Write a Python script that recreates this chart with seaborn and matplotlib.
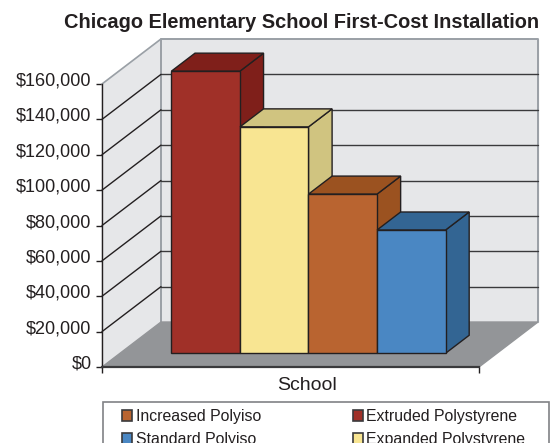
import seaborn as sns
import matplotlib.pyplot as plt
from matplotlib.patches import Patch, Rectangle
from matplotlib.transforms import Affine2D

materials = ['Extruded Polystyrene', 'Expanded Polystyrene', 'Increased Polyiso', 'Standard Polyiso']
costs = [159500, 128000, 90000, 69700]
face_colors = ['#a03028', '#f8e592', '#b96430', '#4a87c3']
shade_colors = ['#7f1f1a', '#d0c480', '#9b5220', '#336593']
y_ticks = [0, 20000, 40000, 60000, 80000, 100000, 120000, 140000, 160000]
y_labels = ['$0', '$20,000', '$40,000', '$60,000', '$80,000', '$100,000', '$120,000', '$140,000', '$160,000']
legend_order = [2, 3, 0, 1]

sns.set_theme(style='white')
plt.rcParams['font.family'] = ['Liberation Sans', 'DejaVu Sans']

W, H = 556, 443
DARK = '#231f20'
AXES_W, AXES_H = 377, 283
# oblique offset in pixels for the full depth of the chart box
DEPTH_X, DEPTH_Y = 59, 45


def at_depth(ax, t):
    return ax.transData + Affine2D().translate(DEPTH_X * t, DEPTH_Y * t)


fig = plt.figure(figsize=(W / 100, H / 100), dpi=100)
ax = fig.add_axes([102 / W, (H - 367) / H, AXES_W / W, AXES_H / H])
ax.patch.set_visible(False)

sns.barplot(x=materials, y=costs, hue=materials, palette=face_colors, width=1, ax=ax,
            legend=False, edgecolor=DARK, linewidth=1, saturation=1)
bars = list(ax.patches)
x0, x1 = -1.25, 4.25
y0, y1 = 0, 160000
ax.set_xlim(x0, x1)
ax.set_ylim(y0, y1)

# walls and floor
back = at_depth(ax, 1)
ax.fill([x0, x1, x1, x0], [y0, y0, y1, y1], color='#e6e7e9', transform=back, zorder=0, clip_on=False)
ax.plot([x0, x0, x1, x1], [y0, y1, y1, y0], color='#9aa0a6', lw=1.4, transform=back, zorder=1, clip_on=False)
px_per_val = AXES_H / (y1 - y0)
px_per_x = AXES_W / (x1 - x0)
side_x = [x0, x0 + DEPTH_X / px_per_x]
side_rise = DEPTH_Y / px_per_val
ax.fill([side_x[0], side_x[1], side_x[1], side_x[0]], [y0, y0 + side_rise, y1 + side_rise, y1],
        color='#e6e7e9', zorder=0, clip_on=False)
ax.plot([side_x[0], side_x[1]], [y1, y1 + side_rise], color='#9aa0a6', lw=1.2, zorder=1, clip_on=False)
ax.fill([x0, side_x[1], x1 + DEPTH_X / px_per_x, x1], [y0, y0 + side_rise, y0 + side_rise, y0],
        color='#939598', zorder=1.5, clip_on=False)

# gridlines run along the side wall then across the back wall
for v in y_ticks[1:-1]:
    ax.plot([x0, x1], [v, v], color='#3a3a3c', lw=1, transform=back, zorder=1.2, clip_on=False)
    ax.plot([side_x[0], side_x[1]], [v, v + side_rise], color=DARK, lw=1, zorder=1.2, clip_on=False)

# bars: seaborn front faces, extruded back
t_front, t_back = 0.305, 0.705
dx = (t_back - t_front) * DEPTH_X / px_per_x
dy = (t_back - t_front) * DEPTH_Y / px_per_val
tr = at_depth(ax, t_front)
for i, bar in enumerate(bars):
    bar.set_transform(tr)
    bar.set_zorder(3 + i + 0.5)
    bar.set_clip_on(False)
    left, right = bar.get_x(), bar.get_x() + bar.get_width()
    top = bar.get_height()
    ax.fill([right, right + dx, right + dx, right], [0, dy, top + dy, top], facecolor=shade_colors[i],
            edgecolor=DARK, lw=1, transform=tr, zorder=3 + i, clip_on=False)
    ax.fill([left, left + dx, right + dx, right], [top, top + dy, top + dy, top], facecolor=shade_colors[i],
            edgecolor=DARK, lw=1, transform=tr, zorder=3 + i, clip_on=False)

ax.set_yticks(y_ticks)
ax.set_yticklabels(y_labels, fontsize=13, color=DARK)
ax.set_xticks([x0, x1])
ax.set_xticklabels([])
ax.tick_params(axis='both', length=4, width=1, color=DARK, left=True, bottom=True, pad=3.5)
for label in ax.get_yticklabels():
    label.set_transform(label.get_transform() + Affine2D().translate(0, 5))
sns.despine(ax=ax, top=True, right=True)
ax.spines['left'].set_color(DARK)
ax.spines['left'].set_linewidth(1)
ax.spines['bottom'].set_color('#3a3a3c')
ax.spines['bottom'].set_linewidth(1.6)
ax.spines['left'].set_zorder(2)
ax.spines['bottom'].set_zorder(2)

fig.text(302 / W, 1 - 23 / H, 'Chicago Elementary School First-Cost Installation', ha='center', va='center',
         fontsize=14.4, fontweight='bold', color=DARK)
fig.text(307 / W, 1 - 385 / H, 'School', ha='center', va='center', fontsize=14, color=DARK)

# legend frame runs off the bottom of the picture
fig.add_artist(Rectangle((103 / W, -10 / H), 446 / W, (H - 402 + 10) / H, transform=fig.transFigure,
                         facecolor='white', edgecolor='#808285', lw=1.2))
handles = [Patch(facecolor=face_colors[i], edgecolor='#3a3a3c', lw=1.2) for i in legend_order]
labels = [materials[i] for i in legend_order]
fig.legend(handles, labels, ncol=2, frameon=False, fontsize=11.4, loc='upper left',
           bbox_to_anchor=(122 / W, 1 - 409 / H), borderpad=0, borderaxespad=0,
           handlelength=0.66, handleheight=0.66, handletextpad=0.2, columnspacing=5.8,
           labelspacing=0.5, labelcolor=DARK)

fig.savefig('out.png', dpi=100)
